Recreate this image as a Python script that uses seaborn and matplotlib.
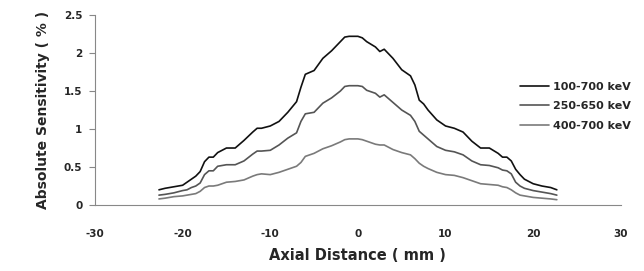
import numpy as np
import pandas as pd
import seaborn as sns
import matplotlib.pyplot as plt

# Axial distance (mm), shared by all three windows
x_mm = [-22.7, -22, -21, -20, -19.5, -19, -18.5, -18, -17.5, -17, -16.5, -16, -15, -14,
        -13, -12, -11.5, -11, -10, -9, -8, -7, -6.5, -6, -5, -4, -3, -2, -1.5, -1, 0,
        0.5, 1, 2, 2.5, 3, 4, 5, 6, 6.5, 7, 7.5, 8, 9, 10, 11, 12, 13, 14, 15, 16,
        16.5, 17, 17.5, 18, 18.5, 19, 20, 21, 22, 22.7]

# Absolute sensitivity (%)
sens_100_700 = [0.20, 0.22, 0.24, 0.26, 0.30, 0.34, 0.38, 0.44, 0.57, 0.63, 0.63, 0.69, 0.75, 0.75,
                0.85, 0.96, 1.01, 1.01, 1.04, 1.10, 1.22, 1.36, 1.55, 1.72, 1.77, 1.93, 2.03, 2.15, 2.21, 2.22, 2.22,
                2.20, 2.15, 2.08, 2.02, 2.05, 1.93, 1.78, 1.70, 1.58, 1.38, 1.33, 1.25, 1.12, 1.04, 1.01, 0.96, 0.84, 0.75, 0.75, 0.68,
                0.63, 0.63, 0.58, 0.47, 0.40, 0.34, 0.28, 0.25, 0.23, 0.20]
sens_250_650 = [0.13, 0.14, 0.16, 0.19, 0.20, 0.23, 0.25, 0.29, 0.40, 0.45, 0.45, 0.51, 0.53, 0.53,
                0.58, 0.67, 0.71, 0.71, 0.72, 0.79, 0.88, 0.95, 1.10, 1.20, 1.22, 1.34, 1.41, 1.50, 1.56, 1.57, 1.57,
                1.56, 1.51, 1.47, 1.42, 1.45, 1.35, 1.25, 1.18, 1.10, 0.97, 0.92, 0.87, 0.77, 0.72, 0.70, 0.66, 0.58, 0.53, 0.52, 0.49,
                0.46, 0.45, 0.41, 0.30, 0.25, 0.22, 0.19, 0.17, 0.15, 0.13]
sens_400_700 = [0.08, 0.09, 0.11, 0.12, 0.13, 0.14, 0.15, 0.18, 0.23, 0.25, 0.25, 0.26, 0.30, 0.31,
                0.33, 0.38, 0.40, 0.41, 0.40, 0.43, 0.47, 0.51, 0.56, 0.64, 0.68, 0.74, 0.78, 0.83, 0.86, 0.87, 0.87,
                0.86, 0.84, 0.80, 0.79, 0.79, 0.73, 0.69, 0.66, 0.61, 0.55, 0.51, 0.48, 0.43, 0.40, 0.39, 0.36, 0.32, 0.28, 0.27, 0.26,
                0.24, 0.23, 0.20, 0.16, 0.13, 0.12, 0.10, 0.09, 0.08, 0.07]

labels = ["100-700 keV", "250-650 keV", "400-700 keV"]
colors = ["#111111", "#555555", "#7a7a7a"]

df = pd.concat([
    pd.DataFrame({"x": x_mm, "y": s, "window": lab})
    for s, lab in zip([sens_100_700, sens_250_650, sens_400_700], labels)
])

sns.set_style("white")
plt.rcParams["font.family"] = ["DejaVu Sans"]
plt.rcParams["axes.unicode_minus"] = False

fig = plt.figure(figsize=(6.44, 2.71), dpi=100)
ax = fig.add_axes([0.1475, 0.2435, 0.8165, 0.701])

sns.lineplot(data=df, x="x", y="y", hue="window", palette=colors, linewidth=1.2,
             ax=ax, legend=True)

ax.set_xlim(-30, 30)
ax.set_ylim(0, 2.5)
ax.set_xticks([-30, -20, -10, 0, 10, 20, 30])
ax.set_yticks([0, 0.5, 1, 1.5, 2, 2.5])
ax.set_yticklabels(["0", "0.5", "1", "1.5", "2", "2.5"])

for s in ["top", "right"]:
    ax.spines[s].set_visible(False)
for s in ["left", "bottom"]:
    ax.spines[s].set_color("#888888")
    ax.spines[s].set_linewidth(0.8)

ax.tick_params(axis="y", left=True, length=4, width=0.8, color="#888888", pad=5,
               labelsize=7.5)
ax.tick_params(axis="x", bottom=False, pad=14, labelsize=7.5)
for t in ax.get_xticklabels() + ax.get_yticklabels():
    t.set_fontweight("bold")

ax.set_xlabel("Axial Distance ( mm )", fontsize=10.5, fontweight="bold", labelpad=6)
ax.set_ylabel("Absolute Sensitivity ( % )", fontsize=10, fontweight="bold",
              family=["Liberation Sans Narrow", "DejaVu Sans"], labelpad=10)

leg = ax.legend(loc="upper left", bbox_to_anchor=(0.8, 0.715), bbox_transform=fig.transFigure,
                frameon=False, fontsize=8, handlelength=2.6, handletextpad=0.4,
                labelspacing=0.85, borderaxespad=0)
for t in leg.get_texts():
    t.set_fontweight("bold")

fig.savefig("out.png", dpi=100)
